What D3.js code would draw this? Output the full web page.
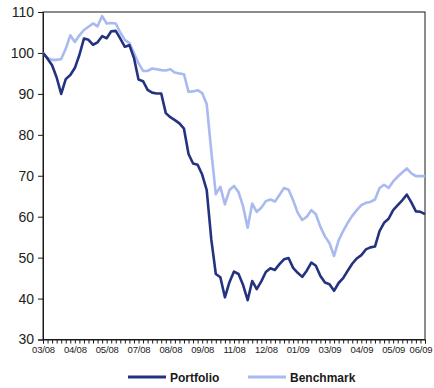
<!DOCTYPE html>
<html>
<head>
<meta charset="utf-8">
<script src="https://cdn.jsdelivr.net/npm/d3@7"></script>
<style>
  html, body { margin: 0; padding: 0; background: #fff; }
  svg { display: block; font-family: "Liberation Sans", Arial, sans-serif; }
</style>
</head>
<body>
<svg id="chart" width="434" height="388"></svg>
<script>
// Indexed performance, one value per observation period
const portfolio = [
  100, 98.6, 97.0, 94.0, 90.0, 93.6, 94.6, 96.3, 99.5, 103.5,
  103.2, 102.0, 102.6, 104.1, 103.6, 105.3, 105.4, 103.5, 101.5, 101.9,
  98.8, 93.5, 93.1, 91.0, 90.3, 90.1, 90.1, 85.3, 84.3, 83.6,
  82.8, 81.5, 75.3, 73.0, 72.7, 70.3, 66.5, 54.5, 46.0, 45.2,
  40.3, 44.0, 46.6, 46.0, 43.3, 39.6, 44.3, 42.3, 44.2, 46.5,
  47.4, 47.0, 48.4, 49.6, 49.9, 47.5, 46.3, 45.3, 46.8, 48.8,
  48.0, 45.5, 43.9, 43.5, 41.9, 43.8, 45.0, 46.8, 48.5, 49.8,
  50.6, 52.0, 52.5, 52.7, 56.5, 58.5, 59.5, 61.6, 62.8, 64.0,
  65.4, 63.5, 61.3, 61.2, 60.6
];
const benchmark = [
  100, 98.8, 98.3, 98.3, 98.5, 101.0, 104.3, 102.7, 104.3, 105.6,
  106.4, 107.2, 106.5, 109.0, 107.2, 107.3, 107.2, 105.0, 103.2, 102.4,
  100.0, 97.5, 95.6, 95.6, 96.2, 96.0, 95.8, 95.7, 96.0, 95.2,
  95.0, 94.8, 90.5, 90.6, 90.9, 90.2, 87.5, 76.0, 65.5, 67.3,
  63.0, 66.5, 67.5, 66.0, 62.5, 57.3, 63.2, 61.2, 62.2, 63.8,
  64.2, 63.7, 65.3, 67.0, 66.6, 64.0, 61.0, 59.2, 60.0, 61.6,
  60.6, 57.5, 55.2, 53.5, 50.4, 54.2, 56.5, 58.5, 60.2, 61.6,
  62.8, 63.4, 63.6, 64.2, 67.0, 67.8, 67.0, 68.6, 69.8, 70.8,
  71.8, 70.6, 69.9, 69.9, 69.9
];
// Month labels and the period each one sits under
const xLabels = ["03/08", "04/08", "05/08", "07/08", "08/08", "09/08", "11/08",
                 "12/08", "01/09", "03/09", "04/09", "05/09", "06/09"];
const xLabelAt = [0, 7, 14, 21, 28, 35, 42, 49, 56, 63, 70, 77, 83];
const yTicks = [30, 40, 50, 60, 70, 80, 90, 100, 110];
const seriesNames = ["Portfolio", "Benchmark"];
const seriesColors = ["#24337f", "#a8baef"];

const svg = d3.select("#chart");
const plotLeft = 43, plotRight = 425, plotTop = 12, plotBottom = 339.5;
const n = portfolio.length;

const x = d3.scaleLinear().domain([0, n - 1]).range([plotLeft, plotRight]);
const y = d3.scaleLinear().domain([30, 110]).range([plotBottom, plotTop]);

// Frame around the plot area
svg.append("rect")
  .attr("x", plotLeft).attr("y", plotTop)
  .attr("width", plotRight - plotLeft).attr("height", plotBottom - plotTop)
  .attr("fill", "none").attr("stroke", "#1a1a1a").attr("stroke-width", 1);

// Y axis
const yAxis = d3.axisLeft(y).tickValues(yTicks).tickSize(5).tickPadding(4);
const gy = svg.append("g").attr("transform", `translate(${plotLeft},0)`).call(yAxis);
gy.select(".domain").attr("stroke", "#1a1a1a");
gy.selectAll(".tick line").attr("stroke", "#1a1a1a");
gy.selectAll(".tick text")
  .attr("font-size", 14).attr("fill", "#222")
  .attr("font-family", "'Liberation Sans', Arial, sans-serif");

// X axis: a tick for every period, labels on selected periods
const labelMap = new Map(xLabelAt.map((idx, k) => [idx, xLabels[k]]));
const xAxis = d3.axisBottom(x)
  .tickValues(d3.range(n))
  .tickSize(4)
  .tickPadding(3)
  .tickFormat(i => labelMap.get(i) || "");
const gx = svg.append("g").attr("transform", `translate(0,${plotBottom})`).call(xAxis);
gx.select(".domain").attr("stroke", "#1a1a1a");
gx.selectAll(".tick line").attr("stroke", "#1a1a1a");
gx.selectAll(".tick text")
  .attr("font-size", 9.5).attr("fill", "#222")
  .attr("letter-spacing", "-0.2px")
  .attr("font-family", "'Liberation Sans', Arial, sans-serif");

// Lines
const line = d3.line().x((d, i) => x(i)).y(d => y(d));
[benchmark, portfolio].forEach((s, k) => {
  svg.append("path")
    .datum(s)
    .attr("fill", "none")
    .attr("stroke", k === 0 ? seriesColors[1] : seriesColors[0])
    .attr("stroke-width", 2.6)
    .attr("stroke-linejoin", "round")
    .attr("d", line);
});

// Legend
const legend = svg.append("g");
const legendItems = [
  { name: seriesNames[0], color: seriesColors[0], x0: 128 },
  { name: seriesNames[1], color: seriesColors[1], x0: 248 }
];
legendItems.forEach(d => {
  legend.append("line")
    .attr("x1", d.x0).attr("x2", d.x0 + 38)
    .attr("y1", 377).attr("y2", 377)
    .attr("stroke", d.color).attr("stroke-width", 3);
  legend.append("text")
    .attr("x", d.x0 + 42).attr("y", 381.5)
    .attr("font-size", 12).attr("font-weight", "bold")
    .attr("fill", "#1a1a1a")
    .text(d.name);
});
</script>
</body>
</html>
